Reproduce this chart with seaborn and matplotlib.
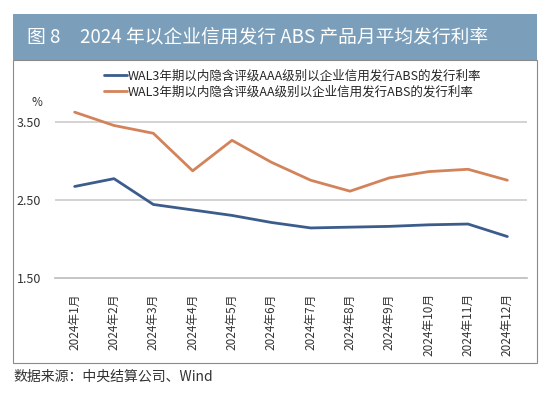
import matplotlib
matplotlib.use("Agg")
import matplotlib.pyplot as plt
import seaborn as sns
import pandas as pd
import numpy as np
from matplotlib.patches import Rectangle
from matplotlib.lines import Line2D

months = ["2024年1月", "2024年2月", "2024年3月", "2024年4月", "2024年5月", "2024年6月",
          "2024年7月", "2024年8月", "2024年9月", "2024年10月", "2024年11月", "2024年12月"]
aaa = [2.67, 2.77, 2.44, 2.37, 2.30, 2.21, 2.14, 2.15, 2.16, 2.18, 2.19, 2.03]
aa = [3.62, 3.45, 3.35, 2.87, 3.26, 2.98, 2.75, 2.61, 2.78, 2.86, 2.89, 2.75]
name_aaa = "WAL3年期以内隐含评级AAA级别以企业信用发行ABS的发行利率"
name_aa = "WAL3年期以内隐含评级AA级别以企业信用发行ABS的发行利率"
yticks = [1.5, 2.5, 3.5]

sns.set_theme(style="white")
plt.rcParams['font.family'] = ['Noto Sans CJK SC', 'DejaVu Sans']

df = pd.DataFrame({
    "month": months * 2,
    "idx": list(range(len(months))) * 2,
    "rate": aaa + aa,
    "series": [name_aaa] * len(months) + [name_aa] * len(months),
})

fig = plt.figure(figsize=(5.5, 3.97), dpi=100)
W, H = 550, 397
# banner
fig.patches.append(Rectangle((13 / W, 1 - 60 / H), (537 - 13) / W, (60 - 14) / H,
                             transform=fig.transFigure, facecolor="#7b9fbb", edgecolor="none",
                             zorder=-2))
# chart box
fig.patches.append(Rectangle((13 / W, 1 - 363 / H), (537 - 13) / W, (363 - 60) / H,
                             transform=fig.transFigure, facecolor="white", edgecolor="#8a8a8a",
                             lw=0.8, zorder=-1))
fig.text(27 / W, 1 - 37 / H, "图 8", color="white", fontsize=13.5, va="center", ha="left")
fig.text(80 / W, 1 - 37 / H, "2024 年以企业信用发行 ABS 产品月平均发行利率",
         color="white", fontsize=13.5, va="center", ha="left")
fig.text(13 / W, 1 - 377 / H, "数据来源：中央结算公司、Wind", fontsize=10,
         color="#333333", va="center", ha="left")

ax = fig.add_axes([55 / W, 1 - 278 / H, (527 - 55) / W, (278 - 102) / H])
ax.set_facecolor("none")
ax.set_zorder(1)
palette = {name_aaa: "#3c5d8c", name_aa: "#d3835a"}
sns.lineplot(data=df, x="idx", y="rate", hue="series", palette=palette, ax=ax,
             linewidth=2, legend=False)
ax.set_xlim(-0.5, len(months) - 0.5)
ax.set_ylim(1.5, 3.75)
ax.set_yticks(yticks)
ax.set_yticklabels([f"{v:.2f}" for v in yticks], fontsize=9, color="#333333")
ax.set_xticks(range(len(months)))
ax.set_xticklabels(months, rotation=90, fontsize=8.5, color="#333333")
ax.set_xticks(np.arange(-0.5, len(months), 1.0), minor=True)
ax.tick_params(axis="x", which="major", length=0, pad=11)
ax.tick_params(axis="x", which="minor", length=3, color="#bbbbbb", direction="in", width=0.8)
ax.tick_params(axis="y", length=0, pad=10)
for yv in yticks[1:]:
    ax.axhline(yv, color="#cccccc", lw=1.2, zorder=0)
for s in ["top", "right", "left"]:
    ax.spines[s].set_visible(False)
ax.spines["bottom"].set_color("#bbbbbb")
ax.spines["bottom"].set_linewidth(1.2)
ax.set_xlabel("")
ax.set_ylabel("")
ax.text(-0.038, 1.0, "%", transform=ax.transAxes, fontsize=8.5, color="#333333", ha="center", va="center")

handles = [Line2D([], [], color=palette[name_aaa], lw=2), Line2D([], [], color=palette[name_aa], lw=2)]
fig.legend(handles, [name_aaa, name_aa], loc="center left",
           bbox_to_anchor=(104 / W, 1 - 84 / H), frameon=False, fontsize=9,
           handlelength=1.8, handletextpad=0.1, labelspacing=0.25, borderaxespad=0, borderpad=0)

fig.savefig("out.png", dpi=100)
